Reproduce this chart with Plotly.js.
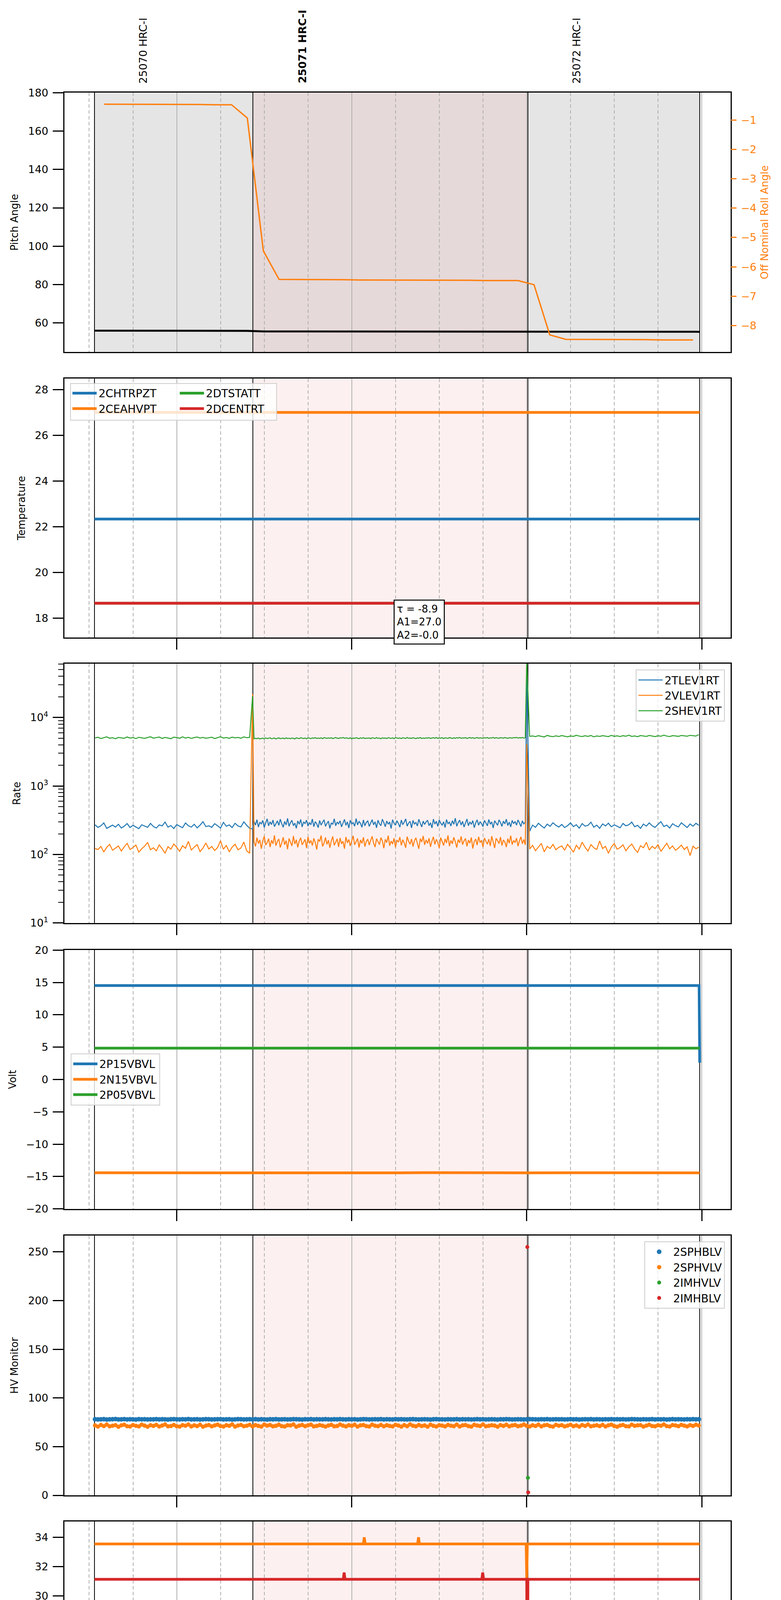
<!DOCTYPE html>
<html>
<head>
<meta charset="utf-8">
<script src="https://cdn.plot.ly/plotly-3.0.1.min.js"></script>
<style>body{margin:0;background:#fff}</style>
</head>
<body>
<div id="chart" style="width:2000px;height:5400px"></div>
<script>
// All times are minutes after midnight on 2021-07-03
const obsNames = ['25070 HRC-I', '25071 HRC-I', '25072 HRC-I'];
const obsStart = [631.8, 686.1, 780.4];
const obsStop = [686.1, 780.4, 839.3];
const obsLabelTime = [648.5, 703.1, 797.0];
const focusObs = 1;

const hourTicks = [660, 720, 780, 840];
const hourLabels = ['11h', '12h', '13h', '14h'];
const quarterTicks = [630, 645, 675, 690, 705, 735, 750, 765, 795, 810, 825];
const quarterLabels = ['30', '45', '15', '30', '45', '15', '30', '45', '15', '30', '45'];

// Panel 1: pitch and roll
const pitchTime = [631.8, 684.0, 690.0, 780.0, 790.0, 839.3];
const pitchAngle = [56.0, 55.9, 55.6, 55.6, 55.4, 55.4];
const rollTime = [635.1, 640.6, 646.0, 651.5, 656.9, 662.4, 667.9, 673.3, 678.8, 684.2,
  689.7, 695.1, 700.6, 706.1, 711.5, 717.0, 722.4, 727.9, 733.3, 738.8,
  744.3, 749.7, 755.2, 760.6, 766.1, 771.5, 777.0, 782.5, 787.9, 793.4,
  798.8, 804.3, 809.7, 815.2, 820.7, 826.1, 831.6, 837.0];
const rollAngle = [-0.46, -0.46, -0.46, -0.47, -0.47, -0.47, -0.47, -0.48, -0.48, -0.93,
  -5.46, -6.43, -6.43, -6.44, -6.44, -6.44, -6.45, -6.45, -6.45, -6.45,
  -6.46, -6.46, -6.46, -6.46, -6.47, -6.47, -6.47, -6.61, -8.32, -8.47,
  -8.47, -8.48, -8.48, -8.48, -8.48, -8.49, -8.49, -8.49];

// Panel 2: temperatures
const tempTime = [631.8, 839.3];
const tempNames = ['2CHTRPZT', '2CEAHVPT', '2DTSTATT', '2DCENTRT'];
const tempValues = [[22.34, 22.34], [27.0, 27.0], [18.66, 18.66], [18.66, 18.66]];
const fitText = 'τ = -8.9<br>A1=27.0<br>A2=-0.0';

// one-minute sample times (panels 3 and 5)
const tMin = [632,633,634,635,636,637,638,639,640,641,642,643,644,645,646,647,648,649,650,651,
  652,653,654,655,656,657,658,659,660,661,662,663,664,665,666,667,668,669,670,671,
  672,673,674,675,676,677,678,679,680,681,682,683,684,685,686,687,688,689,690,691,
  692,693,694,695,696,697,698,699,700,701,702,703,704,705,706,707,708,709,710,711,
  712,713,714,715,716,717,718,719,720,721,722,723,724,725,726,727,728,729,730,731,
  732,733,734,735,736,737,738,739,740,741,742,743,744,745,746,747,748,749,750,751,
  752,753,754,755,756,757,758,759,760,761,762,763,764,765,766,767,768,769,770,771,
  772,773,774,775,776,777,778,779,780,781,782,783,784,785,786,787,788,789,790,791,
  792,793,794,795,796,797,798,799,800,801,802,803,804,805,806,807,808,809,810,811,
  812,813,814,815,816,817,818,819,820,821,822,823,824,825,826,827,828,829,830,831,
  832,833,834,835,836,837,838,839];
// half-minute sample times during obsid 25071 (panel 3)
const tMid = [686,686.5,687,687.5,688,688.5,689,689.5,690,690.5,691,691.5,692,692.5,693,693.5,694,694.5,695,695.5,
  696,696.5,697,697.5,698,698.5,699,699.5,700,700.5,701,701.5,702,702.5,703,703.5,704,704.5,705,705.5,
  706,706.5,707,707.5,708,708.5,709,709.5,710,710.5,711,711.5,712,712.5,713,713.5,714,714.5,715,715.5,
  716,716.5,717,717.5,718,718.5,719,719.5,720,720.5,721,721.5,722,722.5,723,723.5,724,724.5,725,725.5,
  726,726.5,727,727.5,728,728.5,729,729.5,730,730.5,731,731.5,732,732.5,733,733.5,734,734.5,735,735.5,
  736,736.5,737,737.5,738,738.5,739,739.5,740,740.5,741,741.5,742,742.5,743,743.5,744,744.5,745,745.5,
  746,746.5,747,747.5,748,748.5,749,749.5,750,750.5,751,751.5,752,752.5,753,753.5,754,754.5,755,755.5,
  756,756.5,757,757.5,758,758.5,759,759.5,760,760.5,761,761.5,762,762.5,763,763.5,764,764.5,765,765.5,
  766,766.5,767,767.5,768,768.5,769,769.5,770,770.5,771,771.5,772,772.5,773,773.5,774,774.5,775,775.5,
  776,776.5,777,777.5,778,778.5,779,779.5,780];

// Panel 3: rates (before / during / after obsid 25071)
const rateNames = ['2TLEV1RT', '2VLEV1RT', '2SHEV1RT'];
const tlevBefore = [271,248,262,289,240,255,268,251,276,243,259,282,247,266,253,238,271,260,249,284,
  256,243,270,261,297,250,264,239,273,258,246,288,262,251,276,244,268,300,255,262,
  249,281,263,242,294,258,270,247,285,261,252,299,266,241];
const tlevMid = [236,305,268,322,251,296,279,314,247,288,331,262,299,273,318,255,284,309,266,327,
  281,249,303,270,336,258,292,315,263,287,241,309,276,324,252,298,283,317,259,290,
  272,329,254,301,280,246,313,268,295,321,257,284,306,240,289,275,332,262,297,279,
  310,253,287,325,266,299,243,316,278,291,258,334,270,303,284,249,319,262,294,308,
  257,289,322,271,300,245,316,280,263,327,292,254,308,276,298,239,321,285,267,311,
  283,250,318,272,296,331,259,287,305,244,314,278,293,260,326,285,252,307,274,299,
  316,263,290,244,328,277,305,256,319,286,268,300,247,323,281,296,260,312,275,338,
  258,293,317,269,304,251,286,329,263,298,275,312,246,289,320,267,301,281,255,315,
  288,261,324,276,299,243,311,285,266,320,293,257,306,279,327,264,296,252,314,282,
  303,268,319,287,255,310,279,296,43000];
const tlevAfter = [218,268,249,285,262,243,277,258,290,266,251,
  274,247,263,290,255,271,242,282,259,266,296,250,268,241,279,261,286,253,270,258,
  245,283,262,271,297,254,266,240,278,259,289,262,248,275,301,256,268,243,281,263,
  252,290,266,247,279,258,285,266];
const vlevBefore = [122,118,131,109,127,140,115,124,133,112,129,145,118,126,137,108,121,132,150,117,
  125,113,138,121,104,130,119,142,127,111,134,123,155,116,128,139,110,124,147,120,
  131,114,126,158,119,135,109,128,141,117,124,152,113,104];
const vlevMid = [22000,152,131,176,144,163,121,158,185,137,149,170,128,161,143,190,134,155,168,126,
  147,178,139,159,119,171,150,133,186,142,164,127,157,175,138,152,166,124,181,145,
  160,135,172,149,118,167,154,189,131,146,177,140,162,125,158,183,136,151,169,129,
  174,143,156,121,180,148,165,133,159,187,138,152,171,126,163,145,178,130,155,167,
  137,161,184,146,128,170,153,139,176,158,123,166,149,188,134,157,142,173,127,162,
  151,179,136,164,147,125,182,155,141,168,130,159,175,144,121,170,152,186,138,163,
  145,172,129,157,181,140,166,150,124,176,155,135,169,147,190,132,160,143,178,153,
  126,165,148,184,139,158,171,131,162,146,177,122,154,168,137,181,149,161,128,174,
  156,141,167,133,185,150,124,172,159,144,179,135,163,152,128,170,146,188,139,160,
  149,173,132,158,181,143,165,138,4100];
const vlevAfter = [120,136,113,128,145,109,131,122,140,117,127,
  133,115,141,124,108,136,120,151,127,112,139,125,118,157,122,131,104,128,144,119,
  126,138,113,129,142,120,107,134,125,150,116,131,122,139,111,127,146,121,133,115,
  124,137,118,129,96,132,121,128];
const shevBefore = [5020,5150,4930,5080,5210,4980,5060,4890,5120,5040,4970,5190,5010,5090,4920,5140,5030,4960,5100,5230,
  4990,5070,5180,4940,5110,5020,4900,5160,5050,4980,5220,5010,5130,4950,5080,5190,5000,5120,4970,5060,
  5150,4930,5090,5240,5010,5100,4960,5170,5040,5110,4980,5200,5070,5130];
const shevMid = [20500,4880,4960,4900,5010,4870,4940,4990,4860,5030,4920,4970,5050,4890,4960,5010,4850,4980,5040,4910,
  4960,5000,4880,5060,4930,4990,4900,5020,4950,4870,5040,4970,4910,5060,4980,4930,5010,4890,5050,4960,
  4920,5030,4980,5070,4940,5000,4960,5040,4910,5080,4990,4950,5030,4970,5060,4920,5010,5090,4980,4940,
  5050,5000,5110,4970,5040,5010,4930,5060,4880,5020,4950,5070,4990,4910,5040,4960,5080,4930,5000,4970,
  5030,4900,5060,4980,4940,5090,4960,5020,4890,5050,4970,5010,4930,5070,4990,4950,5040,4910,5080,5000,
  4960,5030,4920,5060,4990,4940,5100,4970,5020,4950,5070,5000,4910,5040,4980,5090,4930,5010,4960,5050,
  4990,5080,4940,5020,5060,4970,5100,4950,5030,4990,5070,4920,5050,5010,4960,5090,5000,4940,5040,4980,
  5060,5010,5110,4970,5040,5000,5080,4950,5030,5090,4990,5060,4960,5020,5100,4980,5050,5010,4970,5070,
  5000,5090,4960,5040,5020,5110,4980,5060,5010,4970,5080,5030,4990,5100,5040,4960,5070,5020,5000,5090,
  5060,5110,5000,5070,5030,5120,4990,5080,70000];
const shevAfter = [5300,5380,5260,5420,5310,5200,5470,5330,5250,5390,5280,
  5440,5320,5230,5380,5290,5500,5350,5270,5410,5300,5460,5220,5370,5290,5430,5340,5260,5480,5310,5390,
  5270,5420,5330,5510,5290,5380,5240,5450,5360,5300,5470,5340,5260,5410,5320,5540,5350,5280,5430,5370,
  5300,5460,5390,5330,5490,5410,5360,5620];

// Panel 4: voltages
const voltNames = ['2P15VBVL', '2N15VBVL', '2P05VBVL'];
const p15Time = [631.8, 839.1, 839.3];
const p15Volt = [14.52, 14.52, 2.6];
const n15Time = [631.8, 645, 660, 672, 686, 700, 715, 730, 745, 760, 780, 795, 810, 825, 839.3];
const n15Volt = [-14.42, -14.45, -14.41, -14.44, -14.43, -14.46, -14.42, -14.44, -14.41, -14.45, -14.43, -14.42, -14.46, -14.43, -14.44];
const p05Time = [631.8, 839.3];
const p05Volt = [4.85, 4.85];

// Panel 5: HV monitor
const hvNames = ['2SPHBLV', '2SPHVLV', '2IMHVLV', '2IMHBLV'];
const hvSPHB = [78.1,77.9,78.0,78.2,77.8,78.0,78.1,78.3,77.9,78.0,78.2,77.9,78.1,78.0,77.8,78.2,78.0,78.1,77.9,78.0,
  78.0,78.2,77.9,78.1,78.0,77.8,78.1,78.2,78.0,77.9,78.1,78.0,78.3,77.9,78.0,78.1,77.8,78.0,78.2,78.1,
  77.9,78.0,78.1,78.2,77.9,78.0,78.1,77.8,78.0,78.2,78.1,77.9,78.0,78.1,78.0,78.2,77.9,78.1,78.0,77.8,
  78.1,78.0,78.2,77.9,78.0,78.1,77.9,78.0,78.2,78.1,78.0,77.8,78.1,78.0,78.2,77.9,78.1,78.0,78.0,78.2,
  78.0,77.9,78.1,78.0,78.2,78.0,77.9,78.1,78.0,78.1,77.8,78.0,78.2,78.1,77.9,78.0,78.1,78.0,78.2,77.9,
  78.1,78.0,77.9,78.2,78.0,78.1,78.0,77.9,78.1,78.2,78.0,77.9,78.0,78.1,78.0,77.8,78.1,78.2,78.0,78.0,
  77.9,78.1,78.0,78.0,78.2,77.9,78.1,78.0,78.1,77.9,78.0,78.2,78.0,78.1,77.9,78.0,78.1,78.0,77.8,78.1,
  78.0,78.2,78.1,77.9,78.0,78.1,78.0,77.9,78.0,78.2,78.1,78.0,77.9,78.1,78.0,78.2,77.9,78.0,78.1,78.0,
  78.1,77.9,78.0,78.2,78.0,78.1,77.8,78.0,78.1,78.0,78.2,77.9,78.1,78.0,77.9,78.1,78.0,78.2,78.0,78.1,
  78.0,78.1,77.9,78.0,78.2,78.1,78.0,77.9,78.1,78.0,78.0,78.2,77.9,78.1,78.0,78.1,77.8,78.0,78.2,78.0,
  78.1,78.0,77.9,78.1,78.0,78.2,78.0,78.1];
const hvSPHV = [71.8,70.6,72.3,71.1,72.7,70.9,71.5,72.1,70.4,71.9,72.5,71.0,70.7,72.2,71.4,70.8,72.6,71.6,70.5,72.0,
  71.3,72.4,70.7,71.7,72.8,70.9,71.2,72.3,71.0,70.6,72.1,71.5,72.7,70.8,71.9,71.1,72.5,70.5,71.6,72.2,
  70.9,71.8,72.6,71.2,70.7,72.0,71.4,72.9,70.6,71.7,72.3,71.0,71.5,72.4,70.8,72.1,71.3,70.6,72.7,71.6,
  72.2,70.9,71.4,72.5,71.1,70.7,72.0,71.8,72.8,70.5,71.6,72.3,71.0,71.9,72.6,70.8,71.3,72.1,71.5,70.6,
  71.7,72.4,70.9,71.2,72.7,71.6,70.8,72.0,71.4,72.5,70.6,71.9,72.2,71.1,70.7,72.6,71.5,71.0,72.3,70.9,
  72.0,71.3,70.8,72.4,71.7,70.6,72.1,71.0,72.8,71.5,70.9,72.2,71.2,71.8,70.5,72.5,71.4,70.7,72.0,71.6,
  70.8,72.3,71.5,71.0,72.6,70.7,71.9,72.2,71.1,70.6,72.4,71.7,71.2,72.8,70.9,71.4,72.0,71.6,70.5,72.1,
  71.3,72.5,70.9,71.8,72.2,71.0,71.6,72.7,71.4,70.7,72.0,71.2,72.6,70.8,71.9,72.3,71.1,70.6,72.4,71.5,
  72.1,70.8,71.6,72.5,71.0,71.8,70.6,72.2,71.3,72.7,70.9,71.5,72.0,71.1,72.4,70.7,71.9,72.6,71.2,70.5,
  71.7,72.3,71.0,70.8,72.6,71.4,71.9,72.1,70.6,71.6,72.5,71.2,70.9,72.0,71.5,72.8,71.1,70.7,72.2,71.8,
  71.0,72.4,71.6,70.8,72.1,71.3,72.5,71.7];
const imhvTime = [780.4];
const imhvVal = [18];
const imhbTime = [780.2, 780.5];
const imhbVal = [255, 3];

// Panel 6: detector temperatures
const detNames = ['2SPINATM', '2SPHVATM', '2IMINATM', '2IMHVATM'];
const spinTime = [631.8, 839.3];
const spinVal = [18.93, 18.93];
const sphvTime = [631.8, 724.0, 724.3, 724.6, 742.6, 742.9, 743.2, 779.8, 780.0, 780.2, 839.3];
const sphvVal = [33.55, 33.55, 34.0, 33.55, 33.55, 34.0, 33.55, 33.55, 31.2, 33.55, 33.55];
const iminTime = [631.8, 839.3];
const iminVal = [18.93, 18.93];
const imhvtTime = [631.8, 717.1, 717.4, 717.7, 764.6, 764.9, 765.2, 780.0, 780.2, 780.4, 839.3];
const imhvtVal = [31.14, 31.14, 31.6, 31.14, 31.14, 31.6, 31.14, 31.14, 15.0, 31.14, 31.14];

// Panel 7: FEA temperatures
const feaNames = ['2FHTRMZT', '2FRADPYT', '2FEPRATM', '2FE00ATM'];
const fhtrTime = [631.8, 758.9, 759.2, 759.5, 759.8, 760.1, 760.4, 760.7, 761.0, 761.3, 761.6, 761.9, 762.2, 763.0, 763.3, 763.9, 764.2, 839.3];
const fhtrVal = [20.2, 20.2, 20.73, 20.2, 20.73, 20.2, 20.73, 20.2, 20.73, 20.2, 20.73, 20.2, 20.73, 20.73, 20.2, 20.2, 20.73, 20.73];
const fradTime = [631.8, 708.5, 708.9, 793.0, 793.3, 817.4, 817.7, 839.3];
const fradVal = [15.24, 15.24, 15.70, 15.70, 16.18, 16.18, 16.67, 16.67];
const feprTime = [631.8, 780.0, 780.2, 780.5, 780.7, 839.3];
const feprVal = [22.41, 22.41, 24.5, 20.9, 22.41, 22.41];
const fe00Time = [631.8, 638.9, 639.3, 639.7, 642.9, 643.3, 643.7, 645.3, 645.7, 646.1,
  648.3, 648.7, 649.2, 649.8, 650.2, 655.2, 655.6, 656.0, 659.4, 659.8, 660.2,
  663.4, 663.8, 664.2, 665.9, 666.3, 666.7, 667.2, 667.7, 668.0, 668.4, 668.8,
  670.5, 670.9, 671.3, 675.7, 676.1, 676.5, 682.0, 682.4, 682.8, 687.1, 687.5, 687.9,
  689.3, 689.7, 690.1, 690.5, 690.8, 691.1, 691.9, 692.3, 692.7, 694.0, 694.4, 694.8,
  705.2, 705.6, 706.0, 720.4, 720.8, 721.2, 734.9, 735.3, 735.7, 743.5, 743.9, 744.3,
  750.0, 750.4, 750.8, 751.2, 751.6, 754.2, 754.6, 755.0, 756.8, 757.2, 757.6,
  765.7, 766.1, 766.5, 768.3, 768.7, 769.1, 771.8, 772.2, 772.6, 780.0, 780.2, 780.5,
  788.6, 789.0, 789.4, 793.5, 793.9, 794.3, 798.3, 798.7, 799.1, 800.4, 800.8, 839.3];
const fe00Val = [20.79, 20.79, 20.46, 20.79, 20.79, 20.46, 20.79, 20.79, 20.46, 20.79,
  20.79, 20.46, 20.79, 20.46, 20.79, 20.79, 20.46, 20.79, 20.79, 20.46, 20.79,
  20.79, 20.46, 20.79, 20.79, 20.46, 20.79, 21.12, 20.79, 20.79, 20.46, 20.79,
  20.79, 20.46, 20.79, 20.79, 20.46, 20.79, 20.79, 20.46, 20.79, 20.79, 20.46, 20.79,
  20.79, 20.46, 20.79, 20.79, 20.15, 20.79, 20.79, 20.46, 20.79, 20.79, 20.46, 20.79,
  20.79, 20.46, 20.79, 20.79, 20.46, 20.79, 20.79, 19.25, 20.79, 20.79, 20.15, 20.79,
  20.79, 20.46, 20.79, 21.12, 20.79, 20.79, 20.46, 20.79, 20.79, 22.05, 20.79,
  20.79, 21.45, 20.79, 20.79, 21.12, 20.79, 20.79, 20.46, 20.79, 20.79, 12.0, 20.79,
  20.79, 20.15, 20.79, 20.79, 21.75, 20.79, 20.79, 21.12, 20.79, 20.79, 21.10, 21.10];

const C = {blue: '#1f77b4', orange: '#ff7f0e', green: '#2ca02c', red: '#d62728'};
const colors = [C.blue, C.orange, C.green, C.red];
const xRange = [621.5, 849.9];

// panel vertical extents in paper fractions (top panel first)
const domains = [[0.8686, 1], [0.7239, 0.8551], [0.5793, 0.7107], [0.4344, 0.5656],
  [0.2893, 0.4209], [0.1447, 0.2761], [0, 0.1310]];

const sfx = i => (i === 1 ? '' : String(i));

function xAxis(i) {
  return {
    domain: [0, 1], anchor: 'y' + sfx(i), range: xRange,
    tickmode: 'array', tickvals: hourTicks, ticktext: hourLabels,
    showticklabels: i === 7, tickfont: {size: 27}, ticklabelstandoff: 0,
    ticks: i === 1 ? '' : 'outside', ticklen: 28, tickwidth: 3, tickcolor: 'black',
    showgrid: true, gridcolor: '#b0b0b0', gridwidth: 2,
    minor: {tickmode: 'linear', tick0: 0, dtick: 15, ticks: '', showgrid: true,
      gridcolor: '#b0b0b0', gridwidth: 2, griddash: '9px,6px'},
    showline: true, mirror: true, linecolor: 'black', linewidth: 3, zeroline: false
  };
}

function yAxis(i, range, title, extra) {
  return Object.assign({
    domain: domains[i - 1], anchor: 'x' + sfx(i), range: range,
    title: {text: title, font: {size: 26}, standoff: 18},
    ticks: 'outside', ticklen: 27, tickwidth: 3, tickcolor: 'black',
    tickfont: {size: 27}, ticklabelstandoff: 6,
    showgrid: false, zeroline: false,
    showline: true, mirror: true, linecolor: 'black', linewidth: 3
  }, extra || {});
}

function line(x, y, i, name, color, width, legend) {
  const tr = {x: x, y: y, type: 'scatter', mode: 'lines', name: name,
    xaxis: 'x' + sfx(i), yaxis: 'y' + sfx(i),
    line: {color: color, width: width}, showlegend: !!legend};
  if (legend) tr.legend = legend;
  return tr;
}

function dots(x, y, i, name, color, size, legend) {
  return {x: x, y: y, type: 'scatter', mode: 'markers', name: name,
    xaxis: 'x' + sfx(i), yaxis: 'y' + sfx(i),
    marker: {color: color, size: size}, showlegend: true, legend: legend};
}

const traces = [];

// Panel 1
traces.push(line(pitchTime, pitchAngle, 1, 'Pitch', 'black', 5));
const roll = line(rollTime, rollAngle, 1, 'Roll', C.orange, 3.5);
roll.yaxis = 'y8';
traces.push(roll);

// Panel 2
tempNames.forEach((n, k) => traces.push(line(tempTime, tempValues[k], 2, n, colors[k], 7, k < 2 ? 'legend' : 'legend2')));

// Panel 3
const tBefore = tMin.slice(0, 54);
const tAfter = tMin.slice(149);
const rateT = tBefore.concat(tMid, tAfter);
[[tlevBefore, tlevMid, tlevAfter], [vlevBefore, vlevMid, vlevAfter], [shevBefore, shevMid, shevAfter]]
  .forEach((s, k) => traces.push(line(rateT, s[0].concat(s[1], s[2]), 3, rateNames[k], colors[k], 2.5, 'legend3')));

// Panel 4
traces.push(line(p15Time, p15Volt, 4, voltNames[0], C.blue, 7, 'legend4'));
traces.push(line(n15Time, n15Volt, 4, voltNames[1], C.orange, 7, 'legend4'));
traces.push(line(p05Time, p05Volt, 4, voltNames[2], C.green, 7, 'legend4'));

// Panel 5
traces.push(dots(tMin, hvSPHB, 5, hvNames[0], C.blue, 12, 'legend5'));
traces.push(dots(tMin, hvSPHV, 5, hvNames[1], C.orange, 11, 'legend5'));
traces.push(dots(imhvTime, imhvVal, 5, hvNames[2], C.green, 10, 'legend5'));
traces.push(dots(imhbTime, imhbVal, 5, hvNames[3], C.red, 10, 'legend5'));

// Panel 6
traces.push(line(spinTime, spinVal, 6, detNames[0], C.blue, 7, 'legend6'));
traces.push(line(sphvTime, sphvVal, 6, detNames[1], C.orange, 7, 'legend6'));
traces.push(line(iminTime, iminVal, 6, detNames[2], C.green, 7, 'legend6'));
traces.push(line(imhvtTime, imhvtVal, 6, detNames[3], C.red, 7, 'legend6'));

// Panel 7
traces.push(line(fhtrTime, fhtrVal, 7, feaNames[0], C.blue, 7, 'legend7'));
traces.push(line(fradTime, fradVal, 7, feaNames[1], C.orange, 7, 'legend7'));
traces.push(line(feprTime, feprVal, 7, feaNames[2], C.green, 7, 'legend7'));
traces.push(line(fe00Time, fe00Val, 7, feaNames[3], C.red, 7, 'legend7'));

// observation shading and boundaries
const shapes = [];
for (let p = 1; p <= 7; p++) {
  const xr = 'x' + sfx(p);
  const yr = 'y' + sfx(p) + ' domain';
  obsStart.forEach((t0, k) => {
    let fill = null;
    if (p === 1) fill = k === focusObs ? '#e6d9d9' : '#e5e5e5';
    else if (k === focusObs) fill = '#fdf0f0';
    if (fill) shapes.push({type: 'rect', xref: xr, yref: yr, x0: t0, x1: obsStop[k], y0: 0, y1: 1,
      fillcolor: fill, line: {width: 0}, layer: 'below'});
  });
  obsStart.concat([obsStop[obsStop.length - 1]]).forEach(t => shapes.push({type: 'line', xref: xr, yref: yr,
    x0: t, x1: t, y0: 0, y1: 1, line: {color: 'black', width: 2}, layer: 'below'}));
}
// box behind the two-column legend of panel 2
shapes.push({type: 'rect', xref: 'paper', yref: 'paper', x0: 0.0091, x1: 0.3185, y0: 0.8340, y1: 0.8526,
  fillcolor: 'rgba(255,255,255,0.8)', line: {color: '#cccccc', width: 2}, layer: 'above'});

const annotations = obsNames.map((n, k) => ({
  text: k === focusObs ? '<b>' + n + '</b>' : n, xref: 'x', yref: 'paper',
  x: obsLabelTime[k], y: 1.0042, xanchor: 'center', yanchor: 'bottom',
  textangle: -90, showarrow: false, font: {size: 27}
}));
annotations.push({text: fitText, xref: 'paper', yref: 'paper', x: 0.494, y: 0.7431,
  xanchor: 'left', yanchor: 'top', align: 'left', showarrow: false, font: {size: 26},
  bgcolor: 'white', bordercolor: 'black', borderwidth: 2.5, borderpad: 6});
// minute labels between the hour ticks of the bottom axis
quarterTicks.forEach((t, k) => annotations.push({text: quarterLabels[k], xref: 'x7', yref: 'paper',
  x: t, y: -0.0032, xanchor: 'center', yanchor: 'middle', showarrow: false, font: {size: 18}}));

function legendAt(x, y, xanchor, boxed) {
  return {x: x, y: y, xanchor: xanchor, yanchor: 'top', font: {size: 28}, itemwidth: 62,
    bgcolor: boxed ? 'rgba(255,255,255,0.8)' : 'rgba(0,0,0,0)',
    bordercolor: '#cccccc', borderwidth: boxed ? 2 : 0};
}

const layout = {
  width: 2000, height: 5400,
  margin: {l: 164.5, r: 129, t: 237, b: 110, pad: 0},
  paper_bgcolor: 'white', plot_bgcolor: 'white',
  font: {family: 'DejaVu Sans', color: 'black', size: 26},
  showlegend: true,
  shapes: shapes, annotations: annotations,
  legend: legendAt(0.0091, 0.8526, 'left', false),
  legend2: legendAt(0.1702, 0.8526, 'left', false),
  legend3: legendAt(0.9912, 0.7077, 'right', true),
  legend4: legendAt(0.0091, 0.5132, 'left', true),
  legend5: legendAt(0.9912, 0.4180, 'right', true),
  legend6: legendAt(0.9912, 0.2276, 'right', true),
  legend7: legendAt(0.9923, 0.0827, 'right', true),
  yaxis: yAxis(1, [44.9, 180.05], 'Pitch Angle', {tick0: 0, dtick: 20}),
  yaxis8: {overlaying: 'y', side: 'right', anchor: 'x', range: [-8.90, -0.064], tick0: 0, dtick: 1,
    ticks: 'outside', ticklen: 14, tickwidth: 3, tickcolor: C.orange, ticklabelstandoff: 6,
    tickfont: {size: 27, color: C.orange}, showgrid: false, zeroline: false, showline: false,
    title: {text: 'Off Nominal Roll Angle', font: {size: 26, color: C.orange}, standoff: 12}},
  yaxis2: yAxis(2, [17.16, 28.48], 'Temperature', {tick0: 0, dtick: 2}),
  yaxis3: yAxis(3, [0.999, 4.787], 'Rate', {type: 'log', tickmode: 'array',
    tickvals: [10, 100, 1000, 10000], ticktext: ['10<sup>1</sup>', '10<sup>2</sup>', '10<sup>3</sup>', '10<sup>4</sup>'],
    minor: {tickmode: 'array', tickvals: [20, 30, 40, 50, 60, 70, 80, 90, 200, 300, 400, 500, 600, 700, 800, 900,
      2000, 3000, 4000, 5000, 6000, 7000, 8000, 9000, 20000, 30000, 40000, 50000, 60000],
      ticks: 'outside', ticklen: 13, tickwidth: 2, tickcolor: 'black', showgrid: false}}),
  yaxis4: yAxis(4, [-20.02, 20.02], 'Volt', {tick0: 0, dtick: 5}),
  yaxis5: yAxis(5, [-0.05, 266.7], 'HV Monitor', {tick0: 0, dtick: 50}),
  yaxis6: yAxis(6, [17.43, 35.08], 'Detector Temp', {tick0: 0, dtick: 2}),
  yaxis7: yAxis(7, [13.75, 23.9], 'FEA Temp', {tick0: 0, dtick: 2})
};
for (let i = 1; i <= 7; i++) layout['xaxis' + sfx(i)] = xAxis(i);
layout.xaxis7.title = {text: '2021-07-03 (184)', font: {size: 35}, standoff: 11};

Plotly.newPlot('chart', traces, layout, {displayModeBar: false, staticPlot: true});
</script>
</body>
</html>
